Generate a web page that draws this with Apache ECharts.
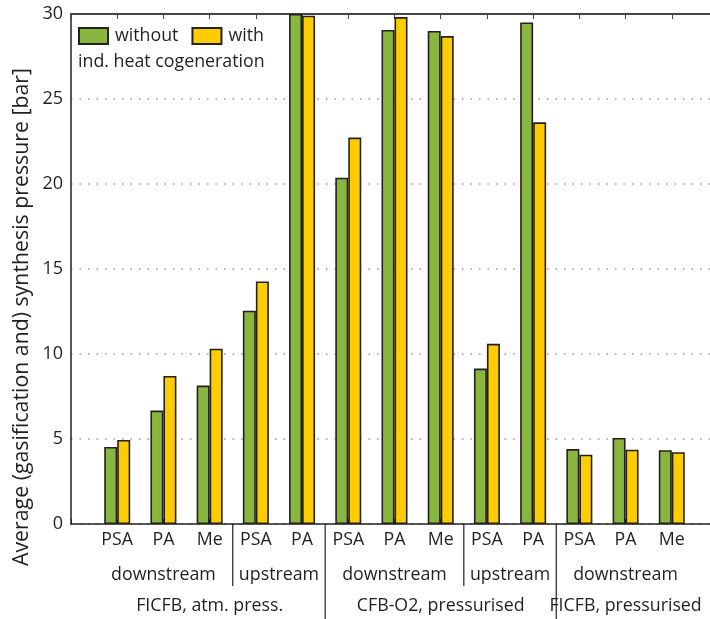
<!DOCTYPE html>
<html>
<head>
<meta charset="utf-8">
<script src="https://cdn.jsdelivr.net/npm/echarts@6/dist/echarts.min.js"></script>
<style>
html,body{margin:0;padding:0;overflow:hidden;background:#fff;width:710px;height:619px;}
#chart{width:721px;height:619px;}
</style>
</head>
<body>
<div id="chart"></div>
<script>
// categories (index 0 and 14 are empty padding slots of the axis)
const categories = ['', 'PSA', 'PA', 'Me', 'PSA', 'PA', 'PSA', 'PA', 'Me', 'PSA', 'PA', 'PSA', 'PA', 'Me', ''];
const withoutCogen = [null, 4.53, 6.67, 8.14, 12.55, 30.0, 20.37, 29.06, 29.0, 9.14, 29.5, 4.41, 5.06, 4.34, null];
const withCogen    = [null, 4.94, 8.71, 10.31, 14.27, 29.9, 22.73, 29.82, 28.7, 10.6, 23.63, 4.08, 4.37, 4.22, null];
const seriesNames = ['without', 'with'];
const legendSecondLine = 'ind. heat cogeneration';
const yTicks = [0, 5, 10, 15, 20, 25, 30];
const yTitle = 'Average (gasification and) synthesis pressure [bar]';
// second label row: sub-groups (first and last category index)
const subGroupLabels = ['downstream', 'upstream', 'downstream', 'upstream', 'downstream'];
const subGroupFirst = [1, 4, 6, 9, 11];
const subGroupLast  = [3, 5, 8, 10, 13];
// third label row: main groups
const mainGroupLabels = ['FICFB, atm. press.', 'CFB-O2, pressurised', 'FICFB, pressurised'];
const mainGroupFirst = [1, 6, 11];
const mainGroupLast  = [5, 10, 13];

const FONT = 'Open Sans';
const FS = 17.8;
const TXT = '#231f20';
const GREEN = '#8ab53e';
const YELLOW = '#ffcc00';

const chart = echarts.init(document.getElementById('chart'), null, {renderer: 'canvas'});

const option = {
  animation: false,
  backgroundColor: '#fff',
  textStyle: {fontFamily: FONT},
  grid: {left: 71, right: 0, top: 14, bottom: 95, containLabel: false},
  legend: {
    left: 78, top: 27, icon: 'rect', padding: 0,
    itemWidth: 29, itemHeight: 16, itemGap: 13,
    textStyle: {fontFamily: FONT, fontSize: FS, color: TXT, padding: [0, 0, 0, 2]},
    data: seriesNames
  },
  xAxis: [{
    type: 'category', data: categories, boundaryGap: false, position: 'bottom',
    axisLine: {lineStyle: {color: '#222', width: 1.5}},
    axisTick: {inside: true, length: 5, lineStyle: {color: '#222'}},
    axisLabel: {fontFamily: FONT, fontSize: FS, color: TXT, margin: 7, interval: 0},
    splitLine: {show: false}
  }, {
    type: 'category', data: categories, boundaryGap: false, position: 'top',
    axisLine: {lineStyle: {color: '#444', width: 2}},
    axisTick: {inside: true, length: 5, lineStyle: {color: '#444'}},
    axisLabel: {show: false}
  }],
  yAxis: {
    type: 'value', min: yTicks[0], max: yTicks[yTicks.length - 1], interval: 5,
    axisLine: {show: true, lineStyle: {color: '#222', width: 1.5}},
    axisTick: {show: false},
    axisLabel: {fontFamily: FONT, fontSize: 18, color: TXT, margin: 8},
    splitLine: {show: true, lineStyle: {color: '#999', type: [1.5, 7], width: 1.5}}
  },
  series: [{
    name: seriesNames[0], type: 'bar', data: withoutCogen, barWidth: 13, barGap: '0%',
    itemStyle: {color: GREEN, borderColor: '#222', borderWidth: 1.6}
  }, {
    name: seriesNames[1], type: 'bar', data: withCogen, barWidth: 13, barGap: '0%',
    itemStyle: {color: YELLOW, borderColor: '#222', borderWidth: 1.6}
  }]
};
chart.setOption(option);

function px(idx) { return chart.convertToPixel({xAxisIndex: 0}, idx); }
function pxF(v) { const a = Math.floor(v), b = Math.ceil(v); const pa = px(a), pb = px(b); return pa + (pb - pa) * (v - a); }
const baseY = chart.convertToPixel({yAxisIndex: 0}, 0);

const graphics = [];
function txt(x, y, s, align) {
  graphics.push({
    type: 'text', x: x, y: y, silent: true,
    style: {text: s, fontFamily: FONT, fontSize: FS, fill: TXT, textAlign: align || 'center', textVerticalAlign: 'middle'}
  });
}
subGroupLabels.forEach((l, i) => txt((px(subGroupFirst[i]) + px(subGroupLast[i])) / 2, baseY + 51, l));
mainGroupLabels.forEach((l, i) => txt((px(mainGroupFirst[i]) + px(mainGroupLast[i])) / 2, baseY + 82, l));
// separators between sub-groups (short) and main groups (long)
for (let i = 0; i < subGroupLast.length - 1; i++) {
  const x = pxF(subGroupLast[i] + 0.5);
  const isMain = mainGroupLast.indexOf(subGroupLast[i]) >= 0;
  graphics.push({type: 'line', silent: true,
    shape: {x1: x, y1: baseY, x2: x, y2: isMain ? 619 : baseY + 62},
    style: {stroke: '#222', lineWidth: 1.2}});
}
// legend second line
txt(78, 62, legendSecondLine, 'left');
// y axis title
graphics.push({type: 'text', x: 22, y: 317, rotation: Math.PI / 2, silent: true,
  style: {text: yTitle, fontFamily: FONT, fontSize: 21.3, fill: TXT, textAlign: 'center', textVerticalAlign: 'middle'}});

chart.setOption({graphic: graphics});
</script>
</body>
</html>
